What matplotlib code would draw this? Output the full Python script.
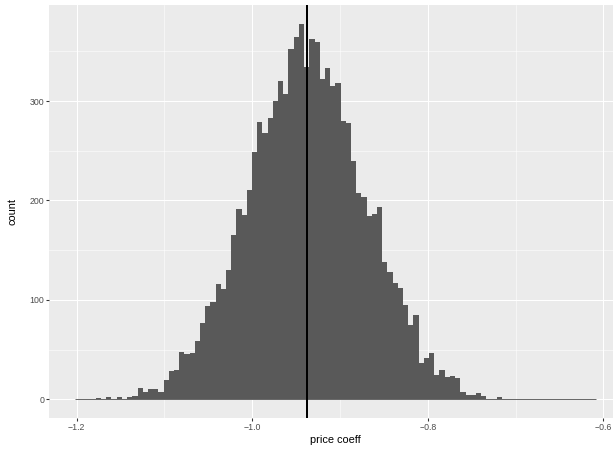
import numpy as np
import matplotlib
matplotlib.use("Agg")
import matplotlib.pyplot as plt
from matplotlib.ticker import FixedLocator

# ---- data ----
bin_start = -1.2019      # left edge of first bin
bin_width = 0.00593      # width of each bin
counts = [0, 0, 0, 0, 1, 0, 2, 0, 2, 0,
          2, 3, 11, 7, 10, 10, 7, 19, 28, 29,
          48, 46, 47, 59, 77, 94, 98, 116, 111, 130,
          165, 191, 185, 211, 249, 279, 268, 283, 300, 320,
          307, 352, 365, 378, 334, 362, 359, 322, 333, 315,
          318, 280, 278, 240, 208, 203, 184, 186, 193, 138,
          128, 117, 112, 95, 75, 85, 36, 41, 47, 24,
          29, 22, 23, 21, 7, 4, 4, 6, 3, 0,
          0, 2, 0, 0, 0, 0, 0, 0, 0, 0,
          0, 0, 0, 0, 0, 0, 0, 0, 0, 0]
vline_x = -0.9377
x_ticks = [-1.2, -1.0, -0.8, -0.6]
x_ticklabels = ["\u22121.2", "\u22121.0", "\u22120.8", "\u22120.6"]
x_minor = [-1.1, -0.9, -0.7]
y_ticks = [0, 100, 200, 300]
y_minor = [50, 150, 250, 350]
x_label = "price coeff"
y_label = "count"

# ---- figure ----
W, H, DPI = 613, 454, 72
plt.rcParams['font.family'] = ['Liberation Sans', 'DejaVu Sans']
fig = plt.figure(figsize=(W / DPI, H / DPI), dpi=DPI)

left_px, right_px, top_px, bottom_px = 49.0, 621.7, 4.8, 418.0
ax = fig.add_axes([left_px / W, (H - bottom_px) / H,
                   (right_px - left_px) / W, (bottom_px - top_px) / H])

counts = np.array(counts, dtype=float)
edges = bin_start + bin_width * np.arange(len(counts) + 1)

ax.set_facecolor('#EBEBEB')
ax.bar(edges[:-1], counts, width=bin_width, align='edge',
       color='#595959', linewidth=0, zorder=2)
ax.hlines(0, edges[0], edges[-1], color='#595959', linewidth=0.9, zorder=2)
ax.axvline(vline_x, color='black', linewidth=2.0, zorder=3)

# ggplot-like expansion (5%)
xr = edges[-1] - edges[0]
ax.set_xlim(edges[0] - 0.05 * xr, edges[-1] + 0.05 * xr)
ymax = counts.max()
ax.set_ylim(-0.05 * ymax, ymax * 1.05)

ax.xaxis.set_major_locator(FixedLocator(x_ticks))
ax.set_xticklabels(x_ticklabels)
ax.xaxis.set_minor_locator(FixedLocator(x_minor))
ax.yaxis.set_major_locator(FixedLocator(y_ticks))
ax.yaxis.set_minor_locator(FixedLocator(y_minor))

ax.grid(which='major', color='white', linewidth=1.07, zorder=1)
ax.grid(which='minor', color='white', linewidth=0.53, zorder=1)
ax.set_axisbelow(True)

for s in ax.spines.values():
    s.set_visible(False)

ax.tick_params(which='major', length=2.75, width=1.07, color='#333333',
               labelsize=8.8, labelcolor='#4D4D4D', pad=2.2)
ax.tick_params(which='minor', length=0)

ax.set_xlabel(x_label, fontsize=11, color='black', labelpad=2.75)
ax.set_ylabel(y_label, fontsize=11, color='black')
ax.yaxis.set_label_coords((18 - left_px) / (right_px - left_px), 0.5)

fig.savefig("out.png", dpi=DPI, facecolor='white')
